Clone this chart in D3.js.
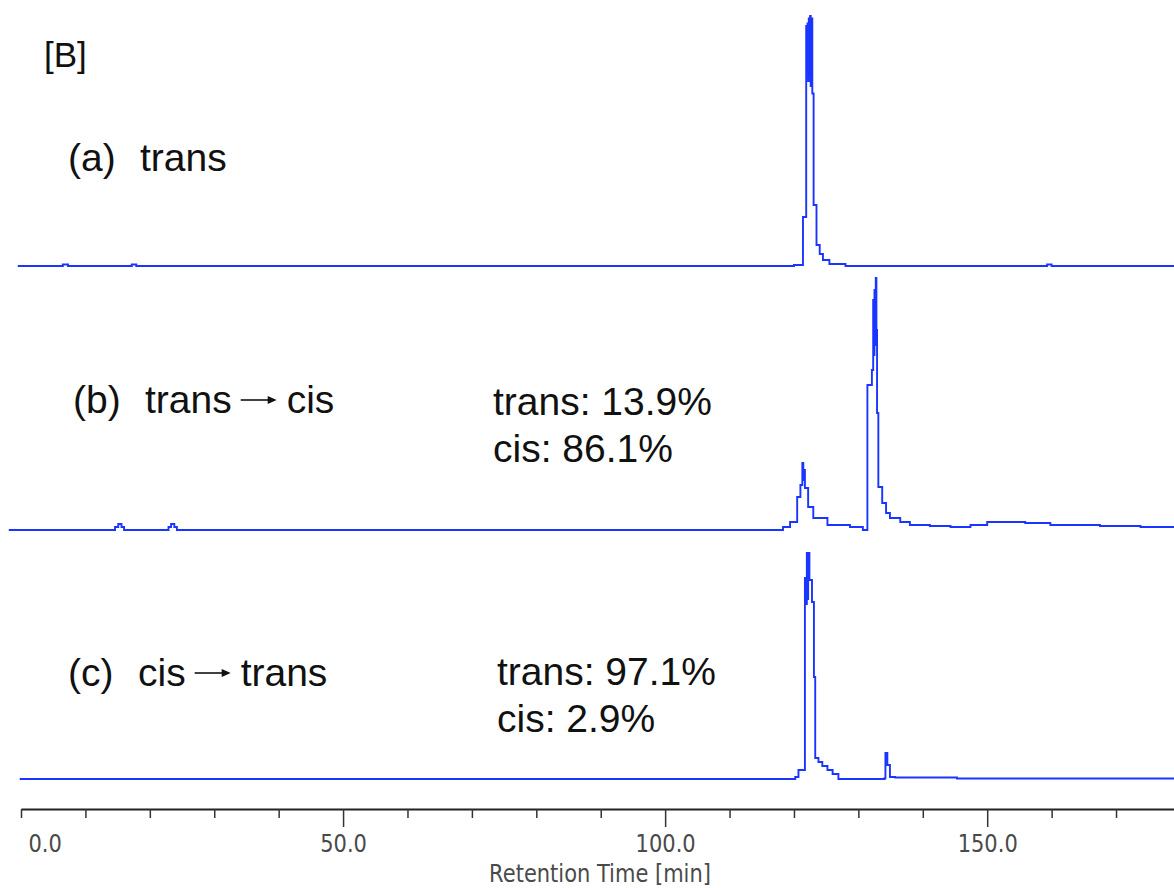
<!DOCTYPE html>
<html>
<head>
<meta charset="utf-8">
<script src="https://cdn.jsdelivr.net/npm/d3@7"></script>
<style>
  html, body { margin: 0; padding: 0; background: #fff; }
  svg { display: block; }
</style>
</head>
<body>
<svg id="chart" width="1174" height="888"></svg>
<script>
// Retention-time axis (minutes)
const timeDomain = [0, 179];
const tickMinutes = d3.range(0, 180, 10);
const labelledTicks = [0, 50, 100, 150];

// Chromatogram traces: [retention time (min), detector response (a.u.)]
const traceA = [
  [-0.5, 0], [6.0, 0], [6.5, 0.6], [7.3, 0], [16.6, 0], [17.2, 0.6], [17.9, 0],
  [118.0, 0], [120.0, 0.4], [121.4, 19.6], [121.9, 96], [122.0, 78], [122.1, 97],
  [122.2, 74], [122.3, 99], [122.4, 76], [122.5, 100], [122.6, 72], [122.7, 99],
  [122.85, 69], [123.05, 24.4], [123.5, 8.4], [124.0, 4.8], [124.5, 2.4],
  [125.5, 0.8], [128.0, 0], [158.8, 0], [159.3, 0.6], [160.0, 0], [179.2, 0]
];
const traceB = [
  [-1.9, 0], [14.1, 0], [14.6, 1.2], [15.1, 2.4], [15.6, 1.2], [16.0, 0],
  [22.4, 0], [22.9, 1.2], [23.3, 2.4], [23.8, 1.2], [24.2, 0],
  [117.1, 0], [118.3, 1.2], [119.4, 3.2], [120.5, 13.2], [121.0, 18],
  [121.3, 26.8], [121.45, 20], [121.55, 24], [121.7, 16.8], [122.2, 9.2],
  [123.0, 4.8], [125.2, 2.0], [128.7, 1.2], [130.7, 0],
  [131.4, 58], [132.1, 64], [132.3, 92], [132.4, 70], [132.5, 96], [132.6, 74],
  [132.7, 100.8], [132.8, 80], [132.9, 46.8], [133.1, 17.2], [133.7, 10.8],
  [134.3, 6.8], [134.9, 4.8], [136.5, 3.2], [138.0, 2.0], [141.1, 1.6],
  [144.3, 1.2], [147.4, 2.0], [150.0, 3.2], [155.9, 2.8], [159.8, 2.0],
  [167.5, 1.6], [173.8, 1.2], [179.2, 1.2]
];
const traceC = [
  [-0.2, 0], [119.4, 0], [120.2, 0.8], [120.7, 3.6], [121.7, 80.4], [121.85, 70],
  [122.0, 90.4], [122.1, 72], [122.2, 90.4], [122.4, 79.6], [122.8, 70.8],
  [123.1, 40.8], [123.3, 8.4], [123.8, 6.8], [124.4, 5.2], [125.2, 3.6],
  [126.0, 2.0], [126.9, 0], [134.0, 0.2], [134.2, 10.4], [134.5, 5.6],
  [134.9, 0.8], [135.7, 0.6], [145.3, 0.2], [179.2, 0.1]
];

// Panel annotations
const panelTags = ["(a)", "(b)", "(c)"];
const panelFrom = ["trans", "trans", "cis"];
const panelTo = [null, "cis", "trans"];
const transPct = [null, 13.9, 97.1];
const cisPct = [null, 86.1, 2.9];

const traces = [traceA, traceB, traceC];

// ---- layout ----
const svg = d3.select("#chart");
const W = 1174;
const axisY = 809;
const baselines = [266, 530, 779];
const panelHeight = 250;
const tagX = [68, 73, 68];
const wordX = [140, 145, 138];
const labelBase = [171, 413, 686];
const pctX = [null, 493, 497];
const pctBase = [null, 415, 685];
const pctLineGap = 47;

const x = d3.scaleLinear().domain(timeDomain).range([21, W]);

const textFont = "'Liberation Sans', Arial, sans-serif";
const axisFont = "'DejaVu Sans', Tahoma, sans-serif";
const traceColor = "#1a35ff";

// ---- traces ----
traces.forEach((tr, i) => {
  const y = d3.scaleLinear().domain([0, 100]).range([baselines[i], baselines[i] - panelHeight]);
  const line = d3.line()
    .x(d => x(d[0]))
    .y(d => y(d[1]))
    .curve(d3.curveStepAfter);
  svg.append("path")
    .datum(tr)
    .attr("d", line)
    .attr("fill", "none")
    .attr("stroke", traceColor)
    .attr("stroke-width", 1.9)
    .attr("stroke-linejoin", "miter");
});

// ---- panel title ----
svg.append("text")
  .attr("x", 44).attr("y", 67)
  .attr("font-family", textFont).attr("font-size", 35)
  .attr("fill", "#111")
  .text("[B]");

// ---- panel labels ----
panelTags.forEach((tag, i) => {
  const g = svg.append("g")
    .attr("font-family", textFont).attr("font-size", 39).attr("fill", "#111");
  g.append("text").attr("x", tagX[i]).attr("y", labelBase[i]).text(tag);
  const from = g.append("text").attr("x", wordX[i]).attr("y", labelBase[i]).text(panelFrom[i]);
  if (panelTo[i]) {
    const endX = wordX[i] + from.node().getComputedTextLength();
    const ay = labelBase[i] - 13;
    const a0 = endX + 9, a1 = a0 + 36;
    g.append("line")
      .attr("x1", a0).attr("x2", a1 - 7).attr("y1", ay).attr("y2", ay)
      .attr("stroke", "#111").attr("stroke-width", 1.6);
    g.append("path")
      .attr("d", `M${a1},${ay} L${a1 - 9},${ay - 4} L${a1 - 9},${ay + 4} Z`)
      .attr("fill", "#111");
    g.append("text").attr("x", a1 + 10).attr("y", labelBase[i]).text(panelTo[i]);
  }
  if (transPct[i] !== null) {
    g.append("text").attr("x", pctX[i]).attr("y", pctBase[i])
      .text(`trans: ${transPct[i].toFixed(1)}%`);
    g.append("text").attr("x", pctX[i]).attr("y", pctBase[i] + pctLineGap)
      .text(`cis: ${cisPct[i].toFixed(1)}%`);
  }
});

// ---- retention-time axis ----
const axis = d3.axisBottom(x)
  .tickValues(tickMinutes)
  .tickSizeOuter(0)
  .tickFormat(d => labelledTicks.includes(d) ? d3.format(".1f")(d) : "");

const gx = svg.append("g")
  .attr("transform", `translate(0,${axisY})`)
  .call(axis);

gx.select(".domain").attr("stroke", "#222").attr("stroke-width", 2.2);
gx.selectAll(".tick line")
  .attr("stroke", "#333").attr("stroke-width", 1.5)
  .attr("y2", d => (d % 50 === 0 && d !== 0) ? 18 : 9);
gx.selectAll(".tick text")
  .attr("font-family", axisFont).attr("font-size", 21)
  .attr("fill", "#4a4a4a")
  .attr("y", 0).attr("dy", 0)
  .attr("x", 0)
  .attr("text-anchor", d => d === 0 ? "start" : "middle")
  .attr("transform", d => `translate(${d === 0 ? 7 : 0},43) scale(1,1.2)`);

svg.append("text")
  .attr("transform", `translate(600,882) scale(1,1.15)`)
  .attr("text-anchor", "middle")
  .attr("font-family", axisFont).attr("font-size", 21)
  .attr("fill", "#4a4a4a")
  .text("Retention Time [min]");
</script>
</body>
</html>
